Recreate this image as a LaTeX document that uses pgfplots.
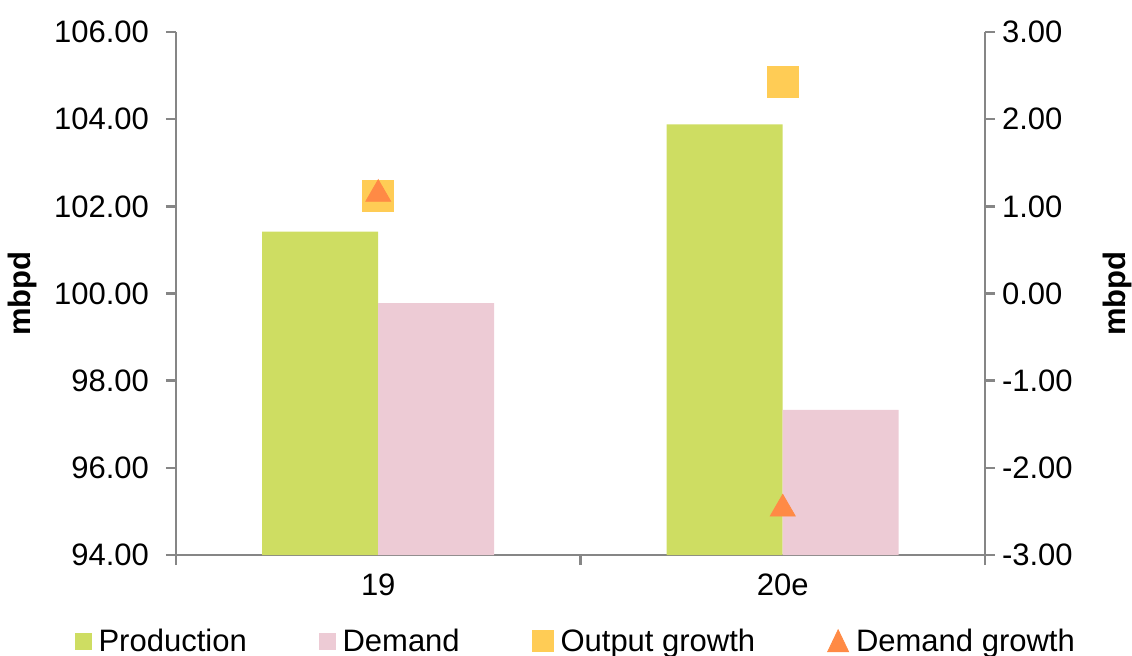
\documentclass[border=0pt]{standalone}
\usepackage{fontspec}
\setmainfont{Liberation Sans}
\usepackage{pgfplots}
\pgfplotsset{compat=1.18}
\definecolor{prod}{HTML}{CEDD62}
\definecolor{dem}{HTML}{EDCBD5}
\definecolor{outg}{HTML}{FFCC55}
\definecolor{demg}{HTML}{FF8A45}
\definecolor{axgray}{HTML}{868686}
\begin{document}
\begin{tikzpicture}
\useasboundingbox (-88pt,-50pt) rectangle (478pt,277.5pt);
\pgfplotsset{
  common/.style={
    scale only axis, width=404.5pt, height=261.5pt,
    xmin=-0.5, xmax=1.5,
    font=\fontsize{15.5}{18}\selectfont,
    /pgf/number format/assume math mode=true,
    yticklabel style={/pgf/number format/fixed, /pgf/number format/fixed zerofill, /pgf/number format/precision=2},
    axis line style={draw=axgray, line width=1.2pt},
    tick style={draw=axgray, line width=1.2pt},
    major tick length=5pt,
    tick align=outside,
    clip=true,
  }
}
\begin{axis}[common,
  ymin=94, ymax=106, ytick={94,96,...,106},
  axis y line*=left, axis x line*=bottom,
  ybar=0pt, bar width=58pt,
  xtick={-0.5,0.5,1.5}, xticklabels={},
  extra x ticks={0,1}, extra x tick labels={19,20e},
  extra x tick style={major tick length=0pt, xticklabel style={yshift=-6pt}},
  yticklabel style={xshift=-5pt},
  ylabel={\textbf{mbpd}},
  every axis y label/.style={at={(axis description cs:-0.19,0.5)}, rotate=90, anchor=center},
]
\addplot[fill=prod, draw=none] coordinates {(0,101.42) (1,103.88)};
\addplot[fill=dem, draw=none] coordinates {(0,99.78) (1,97.33)};
\end{axis}
\begin{axis}[common,
  ymin=-3, ymax=3, ytick={-3,-2,...,3},
  axis y line*=right, axis x line=none,
  ylabel={\textbf{mbpd}},
  every axis y label/.style={at={(axis description cs:1.164,0.5)}, rotate=90, anchor=center},
  legend columns=4,
  legend style={draw=none, fill=none, at={(axis description cs:0.493,-0.165)}, anchor=center,
    font=\fontsize{15.5}{18}\selectfont,
    nodes={inner xsep=0pt, inner ysep=2pt},
    /tikz/every odd column/.append style={column sep=3.5pt},
    /tikz/every even column/.append style={column sep=36pt}},
  legend cell align=left,
]
\addlegendimage{legend image code/.code={\fill[prod] (0pt,-4pt) rectangle (8pt,4pt);}}
\addlegendentry{Production}
\addlegendimage{legend image code/.code={\fill[dem] (0pt,-4pt) rectangle (8pt,4pt);}}
\addlegendentry{Demand}
\addlegendimage{legend image code/.code={\fill[outg] (0pt,-5.25pt) rectangle (10.5pt,5.25pt);}}
\addlegendentry{Output growth}
\addlegendimage{legend image code/.code={\fill[demg] (0pt,-5.25pt) -- (10.5pt,-5.25pt) -- (5.25pt,5.75pt) -- cycle;}}
\addlegendentry{Demand growth}
\addplot[forget plot, only marks, mark=square*, mark size=7.75pt, color=outg] coordinates {(0,1.12) (1,2.43)};
\addplot[forget plot, only marks, mark=triangle*, mark size=7.2pt, color=demg] coordinates {(0,1.14) (1,-2.47)};
\end{axis}
\end{tikzpicture}
\end{document}
